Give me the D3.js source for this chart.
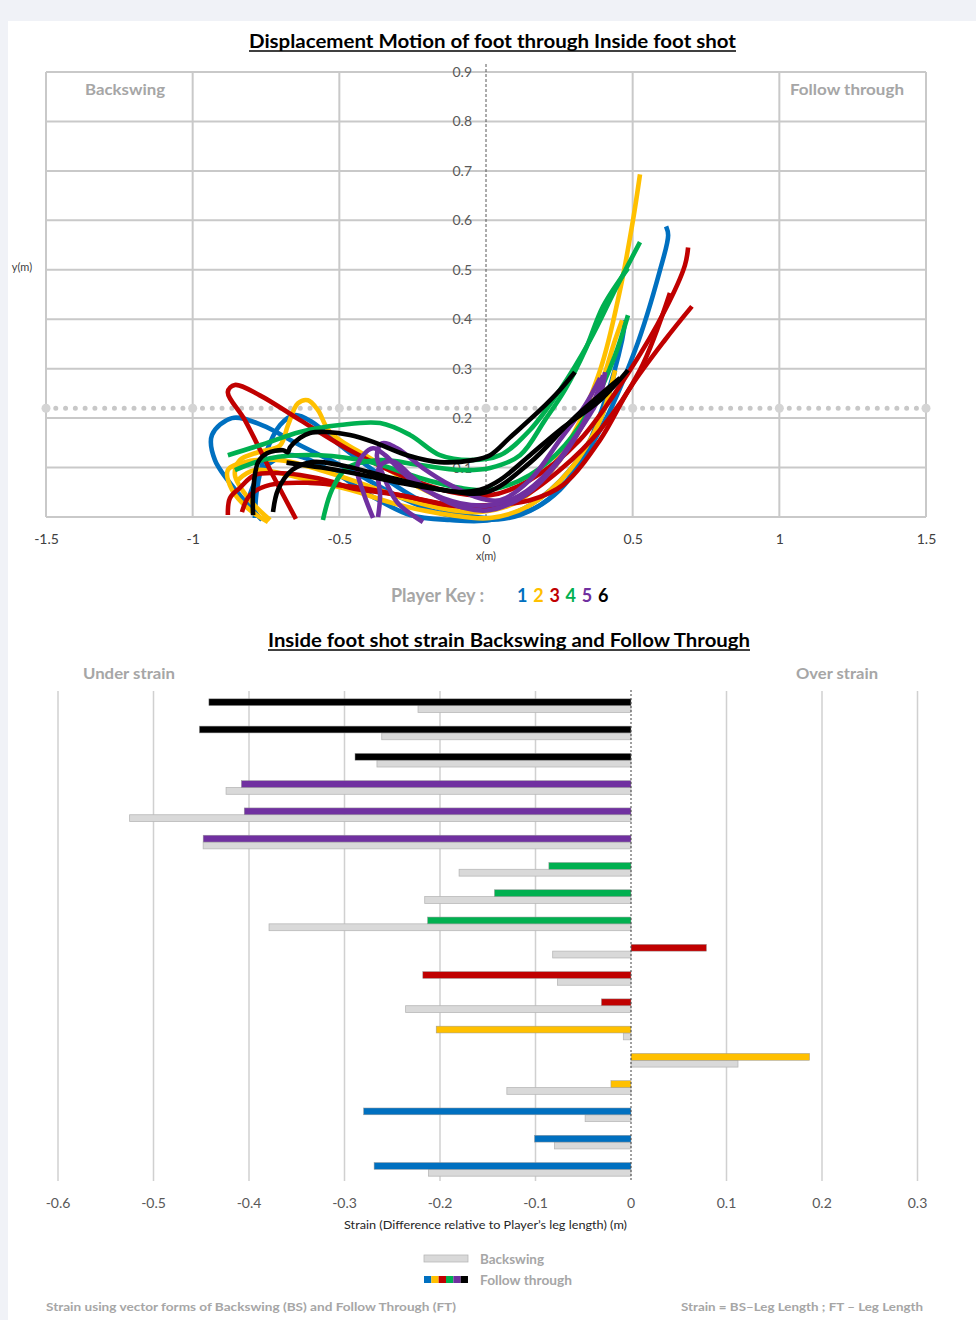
<!DOCTYPE html>
<html>
<head>
<meta charset="utf-8">
<script src="https://cdn.jsdelivr.net/npm/d3@7"></script>
<style>
  body { margin: 0; background: #f0f2f7; }
  svg { display: block; font-family: Lato, "Open Sans", sans-serif; }
</style>
</head>
<body>
<svg id="chart" width="976" height="1320"></svg>
<script>
/* player keys and their trajectories (x, y in metres), three trials each */
const PLAYERS = ["1", "2", "3", "4", "5", "6"];
const PLAYER_COLORS = ["#0070c0", "#ffc000", "#c00000", "#00b050", "#7030a0", "#000000"];

const player1Paths = [
  [[-0.764,-0.006],[-0.839,0.044],[-0.924,0.115],[-0.934,0.166],[-0.866,0.200],[-0.764,0.186],[-0.634,0.145],[-0.464,0.095],[-0.293,0.040],[-0.157,0.008],[-0.020,-0.006],[0.116,0.004],[0.252,0.055],[0.389,0.176],[0.508,0.337],[0.593,0.499],[0.621,0.570],[0.614,0.588]],
  [[-0.788,-0.002],[-0.781,0.055],[-0.753,0.125],[-0.702,0.186],[-0.651,0.206],[-0.593,0.192],[-0.498,0.145],[-0.361,0.085],[-0.225,0.034],[-0.089,0.006],[0.048,-0.002],[0.184,0.024],[0.303,0.095],[0.406,0.236],[0.464,0.358],[0.474,0.398]],
  [[-0.811,0.034],[-0.764,0.095],[-0.668,0.125],[-0.532,0.095],[-0.395,0.044],[-0.259,0.004],[-0.123,-0.006],[0.014,-0.006],[0.150,0.024],[0.286,0.095],[0.389,0.196],[0.440,0.297]]
];
const player2Paths = [
  [[-0.736,-0.006],[-0.805,0.034],[-0.856,0.085],[-0.839,0.115],[-0.777,0.131],[-0.702,0.145],[-0.675,0.186],[-0.641,0.230],[-0.607,0.236],[-0.573,0.216],[-0.532,0.172],[-0.395,0.119],[-0.225,0.059],[-0.089,0.024],[0.014,0.018],[0.150,0.055],[0.286,0.156],[0.389,0.297],[0.457,0.459],[0.501,0.600],[0.525,0.693]],
  [[-0.743,-0.010],[-0.805,0.014],[-0.866,0.055],[-0.880,0.095],[-0.822,0.111],[-0.702,0.115],[-0.566,0.095],[-0.430,0.069],[-0.293,0.040],[-0.157,0.018],[-0.020,0.010],[0.116,0.034],[0.252,0.115],[0.372,0.236],[0.440,0.358],[0.464,0.398]],
  [[-0.846,0.075],[-0.788,0.095],[-0.634,0.079],[-0.464,0.055],[-0.293,0.024],[-0.123,0.004],[0.014,-0.002],[0.150,0.024],[0.286,0.095],[0.389,0.196],[0.440,0.297]]
];
const player3Paths = [
  [[-0.648,-0.004],[-0.736,0.095],[-0.822,0.196],[-0.880,0.253],[-0.856,0.267],[-0.771,0.246],[-0.634,0.196],[-0.464,0.135],[-0.293,0.085],[-0.123,0.051],[0.014,0.044],[0.150,0.075],[0.320,0.156],[0.491,0.297],[0.610,0.418],[0.678,0.509],[0.689,0.545]],
  [[-0.880,0.004],[-0.873,0.038],[-0.839,0.059],[-0.788,0.085],[-0.713,0.089],[-0.634,0.085],[-0.522,0.071],[-0.464,0.059],[-0.293,0.044],[-0.123,0.024],[-0.020,0.018],[0.116,0.038],[0.252,0.095],[0.389,0.176],[0.525,0.297],[0.627,0.453]],
  [[-0.832,0.010],[-0.805,0.044],[-0.736,0.065],[-0.600,0.069],[-0.430,0.059],[-0.259,0.040],[-0.123,0.024],[0.014,0.024],[0.150,0.034],[0.263,0.065],[0.389,0.156],[0.491,0.261],[0.610,0.358],[0.702,0.426]]
];
const player4Paths = [
  [[-0.880,0.125],[-0.771,0.145],[-0.634,0.172],[-0.498,0.186],[-0.361,0.190],[-0.259,0.166],[-0.157,0.125],[-0.055,0.115],[0.048,0.125],[0.150,0.176],[0.252,0.257],[0.355,0.358],[0.440,0.459],[0.525,0.556]],
  [[-0.556,-0.006],[-0.525,0.055],[-0.474,0.099],[-0.361,0.115],[-0.225,0.105],[-0.089,0.095],[0.014,0.099],[0.116,0.125],[0.201,0.196],[0.269,0.257],[0.338,0.337],[0.399,0.426],[0.484,0.503]],
  [[-0.856,0.095],[-0.736,0.119],[-0.566,0.125],[-0.395,0.111],[-0.225,0.079],[-0.089,0.059],[0.014,0.055],[0.150,0.085],[0.269,0.145],[0.372,0.236],[0.440,0.327],[0.484,0.408]]
];
const player5Paths = [
  [[-0.385,-0.002],[-0.419,0.051],[-0.440,0.099],[-0.419,0.125],[-0.385,0.139],[-0.344,0.125],[-0.293,0.095],[-0.208,0.055],[-0.089,0.028],[0.014,0.024],[0.116,0.044],[0.218,0.095],[0.320,0.176],[0.389,0.246],[0.406,0.293]],
  [[-0.368,0.000],[-0.361,0.044],[-0.368,0.095],[-0.344,0.111],[-0.310,0.111],[-0.259,0.085],[-0.174,0.044],[-0.072,0.018],[0.014,0.014],[0.133,0.044],[0.252,0.115],[0.355,0.216],[0.399,0.287]],
  [[-0.215,-0.010],[-0.303,0.030],[-0.351,0.085],[-0.372,0.125],[-0.355,0.149],[-0.303,0.139],[-0.215,0.099],[-0.123,0.065],[-0.020,0.038],[0.048,0.034],[0.150,0.075],[0.252,0.156],[0.338,0.226],[0.389,0.281]]
];
const player6Paths = [
  [[-0.726,0.010],[-0.709,0.055],[-0.661,0.095],[-0.593,0.111],[-0.498,0.105],[-0.361,0.085],[-0.225,0.065],[-0.106,0.051],[-0.020,0.055],[0.048,0.075],[0.150,0.125],[0.252,0.176],[0.389,0.236],[0.484,0.297]],
  [[-0.794,0.004],[-0.794,0.051],[-0.777,0.111],[-0.747,0.129],[-0.692,0.135],[-0.675,0.131],[-0.668,0.141],[-0.634,0.160],[-0.600,0.170],[-0.542,0.172],[-0.464,0.166],[-0.385,0.152],[-0.269,0.125],[-0.157,0.111],[-0.044,0.115],[0.014,0.125],[0.082,0.161],[0.184,0.216],[0.252,0.257],[0.303,0.293]],
  [[-0.680,0.110],[-0.560,0.100],[-0.420,0.085],[-0.300,0.070],[-0.150,0.055],[0.000,0.050],[0.150,0.110],[0.300,0.200],[0.457,0.281]]
];
const playerPaths = [player1Paths, player2Paths, player3Paths, player4Paths, player5Paths, player6Paths];

const REFERENCE_LEVEL = 0.22; // dotted line across the motion plot

/* strain chart: trials top to bottom, follow through and backswing strain (m) */
const trials = ["6-1","6-2","6-3","5-1","5-2","5-3","4-1","4-2","4-3","3-1","3-2","3-3","2-1","2-2","2-3","1-1","1-2","1-3"];
const followThrough = [-0.442,-0.452,-0.289,-0.408,-0.405,-0.448,-0.086,-0.143,-0.213,0.079,-0.218,-0.031,-0.204,0.187,-0.021,-0.280,-0.101,-0.269];
const backswing = [-0.223,-0.261,-0.266,-0.424,-0.525,-0.448,-0.180,-0.216,-0.379,-0.082,-0.077,-0.236,-0.008,0.112,-0.130,-0.048,-0.080,-0.212];

const svg = d3.select("#chart");
const GRID = "#c9c9c9";
const LABEL_GREY = "#a6a6a6";

svg.append("rect").attr("x", 8).attr("y", 21).attr("width", 968).attr("height", 1299).attr("fill", "#fff");

/* ---------- top chart: displacement motion ---------- */
const x = d3.scaleLinear().domain([-1.5, 1.5]).range([46, 926]);
const y = d3.scaleLinear().domain([0, 0.9]).range([517, 72]);

function title(text, cx, baseline, width) {
  svg.append("text")
    .attr("x", cx).attr("y", baseline)
    .attr("text-anchor", "middle")
    .attr("font-size", 19).attr("font-weight", "bold").attr("fill", "#000")
    .attr("textLength", width).attr("lengthAdjust", "spacingAndGlyphs")
    .text(text);
  svg.append("line")
    .attr("x1", cx - width / 2).attr("x2", cx + width / 2)
    .attr("y1", baseline + 3).attr("y2", baseline + 3)
    .attr("stroke", "#000").attr("stroke-width", 1.3);
}

title("Displacement Motion of foot through Inside foot shot", 492.5, 48, 487);

const motion = svg.append("g");

motion.selectAll(".hgrid")
  .data(y.ticks(9))
  .enter().append("line")
  .attr("x1", x(-1.5)).attr("x2", x(1.5))
  .attr("y1", d => y(d)).attr("y2", d => y(d))
  .attr("stroke", GRID).attr("stroke-width", 2);

motion.selectAll(".vgrid")
  .data(x.ticks(6).filter(d => d !== 0))
  .enter().append("line")
  .attr("x1", d => x(d)).attr("x2", d => x(d))
  .attr("y1", y(0.9)).attr("y2", y(0))
  .attr("stroke", GRID).attr("stroke-width", 2);

motion.append("line")
  .attr("x1", x(0)).attr("x2", x(0))
  .attr("y1", y(0.9) - 8).attr("y2", y(0) + 3)
  .attr("stroke", "#595959").attr("stroke-width", 1)
  .attr("stroke-dasharray", "3,2");

motion.append("text").attr("x", 125).attr("y", 95).attr("text-anchor", "middle")
  .attr("font-size", 16).attr("font-weight", "bold").attr("fill", LABEL_GREY)
  .attr("textLength", 80).attr("lengthAdjust", "spacingAndGlyphs").text("Backswing");
motion.append("text").attr("x", 847).attr("y", 95).attr("text-anchor", "middle")
  .attr("font-size", 16).attr("font-weight", "bold").attr("fill", LABEL_GREY)
  .attr("textLength", 114).attr("lengthAdjust", "spacingAndGlyphs").text("Follow through");

// y tick labels next to the zero axis
motion.selectAll(".ylab")
  .data(y.ticks(9).filter(d => d > 0))
  .enter().append("text")
  .attr("x", x(0) - 14).attr("y", d => y(d) + 5)
  .attr("text-anchor", "end").attr("font-size", 14).attr("fill", "#595959")
  .text(d => d3.format(".1f")(d));

// x axis labels
const xAxis = d3.axisBottom(x).tickValues(x.ticks(6)).tickSize(0).tickPadding(0)
  .tickFormat(d => String(d));
motion.append("g").attr("transform", "translate(0,534)").call(xAxis)
  .call(g => g.select(".domain").remove())
  .call(g => g.selectAll("text").attr("font-size", 14).attr("fill", "#404040")
    .attr("font-family", "Lato, 'Open Sans', sans-serif"));

motion.append("text").attr("x", x(0)).attr("y", 560).attr("text-anchor", "middle")
  .attr("font-size", 11).attr("fill", "#404040").text("x(m)");
motion.append("text").attr("x", 22).attr("y", 271).attr("text-anchor", "middle")
  .attr("font-size", 11).attr("fill", "#404040").text("y(m)");

// dotted reference line
motion.append("line")
  .attr("x1", x(-1.5)).attr("x2", x(1.5))
  .attr("y1", y(REFERENCE_LEVEL)).attr("y2", y(REFERENCE_LEVEL))
  .attr("stroke", "#c8c8c8").attr("stroke-width", 5)
  .attr("stroke-linecap", "round").attr("stroke-dasharray", "0,9.78");
motion.selectAll(".refdot")
  .data(x.ticks(6))
  .enter().append("circle")
  .attr("cx", d => x(d)).attr("cy", y(REFERENCE_LEVEL)).attr("r", 4.5)
  .attr("fill", "#d4d4d4");

// trajectories
const line = d3.line()
  .x(d => x(d[0])).y(d => y(d[1]))
  .curve(d3.curveCatmullRom.alpha(0.5));

playerPaths.forEach((paths, i) => {
  motion.selectAll(`.p${i}`)
    .data(paths)
    .enter().append("path")
    .attr("d", line)
    .attr("fill", "none")
    .attr("stroke", PLAYER_COLORS[i])
    .attr("stroke-width", 4.6)
    .attr("stroke-linecap", "butt");
});

// player key
const key = svg.append("text").attr("x", 391).attr("y", 602)
  .attr("font-size", 18).attr("font-weight", "bold");
key.append("tspan").attr("fill", LABEL_GREY).text("Player Key :");
PLAYERS.forEach((p, i) => {
  key.append("tspan").attr("x", 517 + i * 16.2).attr("fill", PLAYER_COLORS[i]).text(p);
});

/* ---------- bottom chart: strain bars ---------- */
title("Inside foot shot strain Backswing and Follow Through", 509, 647, 482);

const bx = d3.scaleLinear().domain([-0.6, 0.3]).range([58, 917.5]);
const by = d3.scaleBand().domain(trials).range([692, 1183]).paddingInner(0.5).paddingOuter(0.25);
const half = by.bandwidth() / 2;

const strain = svg.append("g");

svg.append("text").attr("x", 129).attr("y", 679).attr("text-anchor", "middle")
  .attr("font-size", 16).attr("font-weight", "bold").attr("fill", LABEL_GREY)
  .attr("textLength", 92).attr("lengthAdjust", "spacingAndGlyphs").text("Under strain");
svg.append("text").attr("x", 837).attr("y", 679).attr("text-anchor", "middle")
  .attr("font-size", 16).attr("font-weight", "bold").attr("fill", LABEL_GREY)
  .attr("textLength", 82).attr("lengthAdjust", "spacingAndGlyphs").text("Over strain");

const bTicks = bx.ticks(9);
strain.selectAll(".bgrid")
  .data(bTicks.filter(d => Math.abs(d) > 1e-9))
  .enter().append("line")
  .attr("x1", d => bx(d)).attr("x2", d => bx(d))
  .attr("y1", 691).attr("y2", 1181)
  .attr("stroke", "#d0d0d0").attr("stroke-width", 1.5);

// backswing bars (grey, lower half of each band)
strain.selectAll(".bs")
  .data(trials)
  .enter().append("rect")
  .attr("x", (d, i) => Math.min(bx(0), bx(backswing[i])))
  .attr("width", (d, i) => Math.abs(bx(backswing[i]) - bx(0)))
  .attr("y", d => by(d) + half)
  .attr("height", half)
  .attr("fill", "#d9d9d9").attr("stroke", "#b8b8b8").attr("stroke-width", 0.8);

// follow through bars (player colour, upper half)
strain.selectAll(".ft")
  .data(trials)
  .enter().append("rect")
  .attr("x", (d, i) => Math.min(bx(0), bx(followThrough[i])))
  .attr("width", (d, i) => Math.abs(bx(followThrough[i]) - bx(0)))
  .attr("y", d => by(d))
  .attr("height", half)
  .attr("fill", d => PLAYER_COLORS[+d.split("-")[0] - 1])
  .attr("stroke", "#9a9a9a").attr("stroke-width", 0.5);

strain.append("line")
  .attr("x1", bx(0)).attr("x2", bx(0))
  .attr("y1", 690).attr("y2", 1181)
  .attr("stroke", "#404040").attr("stroke-width", 1).attr("stroke-dasharray", "2,2");

strain.selectAll(".blab")
  .data(bTicks)
  .enter().append("text")
  .attr("x", d => bx(d)).attr("y", 1208)
  .attr("text-anchor", "middle").attr("font-size", 14).attr("fill", "#595959")
  .text(d => String(+d.toFixed(1)));

svg.append("text").attr("x", 485.5).attr("y", 1229).attr("text-anchor", "middle")
  .attr("font-size", 11).attr("fill", "#262626")
  .attr("textLength", 283).attr("lengthAdjust", "spacingAndGlyphs")
  .text("Strain (Difference relative to Player\u2019s leg length) (m)");

// legend
svg.append("rect").attr("x", 424).attr("y", 1255).attr("width", 44).attr("height", 7)
  .attr("fill", "#d9d9d9").attr("stroke", "#b8b8b8").attr("stroke-width", 0.8);
svg.append("text").attr("x", 480).attr("y", 1264).attr("font-size", 13).attr("font-weight", "bold")
  .attr("fill", LABEL_GREY).attr("textLength", 64).attr("lengthAdjust", "spacingAndGlyphs").text("Backswing");
svg.selectAll(".sw")
  .data(PLAYER_COLORS)
  .enter().append("rect")
  .attr("x", (d, i) => 424 + i * 7.33).attr("y", 1276).attr("width", 7.33).attr("height", 7)
  .attr("fill", d => d);
svg.append("text").attr("x", 480).attr("y", 1285).attr("font-size", 13).attr("font-weight", "bold")
  .attr("fill", LABEL_GREY).attr("textLength", 92).attr("lengthAdjust", "spacingAndGlyphs").text("Follow through");

svg.append("text").attr("x", 46).attr("y", 1311).attr("font-size", 12).attr("font-weight", "bold")
  .attr("fill", LABEL_GREY).attr("textLength", 410).attr("lengthAdjust", "spacingAndGlyphs")
  .text("Strain using vector forms of Backswing (BS) and Follow Through (FT)");
svg.append("text").attr("x", 681).attr("y", 1311).attr("font-size", 12).attr("font-weight", "bold")
  .attr("fill", LABEL_GREY).attr("textLength", 242).attr("lengthAdjust", "spacingAndGlyphs")
  .text("Strain = BS\u2013Leg Length ;  FT \u2013 Leg Length");
</script>
</body>
</html>
